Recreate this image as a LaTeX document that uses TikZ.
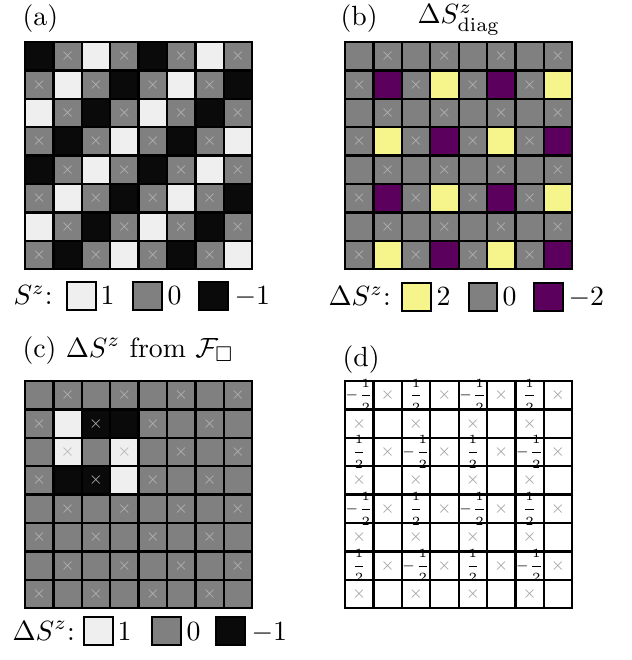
\documentclass[tikz,border=0pt]{standalone}
\usepackage{amssymb}
\definecolor{cellW}{HTML}{EFEFEF}
\definecolor{cellG}{HTML}{808080}
\definecolor{cellB}{HTML}{0A0A0A}
\definecolor{cellY}{HTML}{F5F58C}
\definecolor{cellP}{HTML}{5C005E}
\definecolor{cellE}{HTML}{FFFFFF}
\definecolor{xcol}{HTML}{B4B4B4}
\definecolor{xcolD}{HTML}{A0A0A0}
\newcommand{\cs}{28.4}
\newcommand{\cellgrid}[4]{% name, x0, y0, rows
  \foreach \rowlist [count=\r from 0] in {#4} {
    \foreach \v [count=\c from 0] in \rowlist {
      \filldraw[cell, fill=cell\v] ({#2+\c*\cs},{#3+\r*\cs}) rectangle ++(\cs,\cs);
    }
  }
  \draw[cell] (#2,#3) rectangle ++({8*\cs},{8*\cs});
}
\newcommand{\crossgrid}[4]{% name, x0, y0, colour
  \foreach \r in {0,...,7} {
    \foreach \c in {0,...,7} {
      \pgfmathtruncatemacro\myparity{mod(\r+\c,2)}
      \ifnum\myparity=1
        \node[xmark, text=#4] (#1-x-\r-\c) at ({#2+(\c+0.5)*\cs},{#3+(\r+0.5)*\cs}) {$\times$};
      \fi
    }
  }
}
\begin{document}
\begin{tikzpicture}[x=0.36pt,y=-0.36pt,
  cell/.style={draw=black, line width=0.8pt},
  xmark/.style={font=\tiny, inner sep=0pt},
  legbox/.style={draw=black, line width=0.9pt},
  lab/.style={anchor=base west, inner sep=0pt},
  frac/.style={font=\tiny, scale=0.9, inner sep=0pt}]
\useasboundingbox (0,0) rectangle (631,660);

% ---------- (a)
\node[lab] (la) at (22,26) {(a)};
\cellgrid{a}{25}{42}{{B,G,W,G,B,G,W,G},{G,W,G,B,G,W,G,B},{W,G,B,G,W,G,B,G},{G,B,G,W,G,B,G,W},{B,G,W,G,B,G,W,G},{G,W,G,B,G,W,G,B},{W,G,B,G,W,G,B,G},{G,B,G,W,G,B,G,W}}
\crossgrid{a}{25}{42}{xcol}
\node[lab] (aleg) at (13,305) {$S^z$:};
\filldraw[legbox, fill=cellW] (67,282) rectangle (96,310);
\node[lab] (a1) at (100,305) {1};
\filldraw[legbox, fill=cellG] (133,282) rectangle (162,310);
\node[lab] (a0) at (167,305) {0};
\filldraw[legbox, fill=cellB] (199,282) rectangle (228,310);
\node[lab] (am1) at (234,305) {$-1$};

% ---------- (b)
\node[lab] (lb) at (340,26) {(b)};
\node[lab] (tb) at (417,24) {$\Delta S^z_{\mathrm{diag}}$};
\cellgrid{b}{345}{42}{{G,G,G,G,G,G,G,G},{G,P,G,Y,G,P,G,Y},{G,G,G,G,G,G,G,G},{G,Y,G,P,G,Y,G,P},{G,G,G,G,G,G,G,G},{G,P,G,Y,G,P,G,Y},{G,G,G,G,G,G,G,G},{G,Y,G,P,G,Y,G,P}}
\crossgrid{b}{345}{42}{xcol}
\node[lab] (bleg) at (328,306) {$\Delta S^z$:};
\filldraw[legbox, fill=cellY] (402,283) rectangle (431,311);
\node[lab] (b2) at (436,306) {2};
\filldraw[legbox, fill=cellG] (469,283) rectangle (497,311);
\node[lab] (b0) at (502,306) {0};
\filldraw[legbox, fill=cellP] (534,283) rectangle (563,311);
\node[lab] (bm2) at (568,306) {$-2$};

% ---------- (c)
\node[lab] (lc) at (22,357) {(c) $\Delta S^z$ from $\mathcal{F}_{\square}$};
\cellgrid{c}{25}{381}{{G,G,G,G,G,G,G,G},{G,W,B,B,G,G,G,G},{G,W,G,W,G,G,G,G},{G,B,B,W,G,G,G,G},{G,G,G,G,G,G,G,G},{G,G,G,G,G,G,G,G},{G,G,G,G,G,G,G,G},{G,G,G,G,G,G,G,G}}
\crossgrid{c}{25}{381}{xcol}
\node[lab] (cleg) at (12,640) {$\Delta S^z$:};
\filldraw[legbox, fill=cellW] (84,617) rectangle (113,645);
\node[lab] (c1) at (117,640) {1};
\filldraw[legbox, fill=cellG] (152,617) rectangle (181,645);
\node[lab] (c0) at (186,640) {0};
\filldraw[legbox, fill=cellB] (216,617) rectangle (245,645);
\node[lab] (cm1) at (251,640) {$-1$};

% ---------- (d)
\node[lab] (ld) at (342,366) {(d)};
\cellgrid{d}{345}{381}{{E,E,E,E,E,E,E,E},{E,E,E,E,E,E,E,E},{E,E,E,E,E,E,E,E},{E,E,E,E,E,E,E,E},{E,E,E,E,E,E,E,E},{E,E,E,E,E,E,E,E},{E,E,E,E,E,E,E,E},{E,E,E,E,E,E,E,E}}
\crossgrid{d}{345}{381}{xcolD}
\foreach \r/\c/\t in {0/0/-,0/2/,0/4/-,0/6/,2/0/,2/2/-,2/4/,2/6/-,4/0/-,4/2/,4/4/-,4/6/,6/0/,6/2/-,6/4/,6/6/-} {
  \node[frac] (d-f-\r-\c) at ({345+(\c+0.5)*\cs},{381+(\r+0.5)*\cs}) {$\displaystyle\t\frac{1}{2}$};
}
\end{tikzpicture}
\end{document}
